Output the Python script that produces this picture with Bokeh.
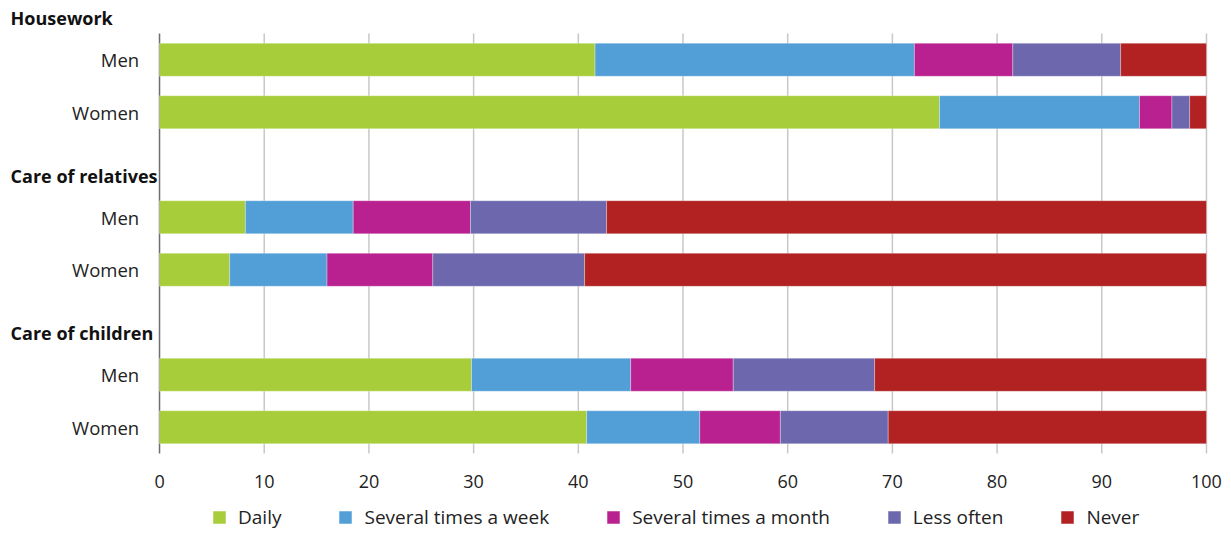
from bokeh.plotting import figure
from bokeh.models import ColumnDataSource, Range1d, Legend, LegendItem
from bokeh.core.properties import value
from bokeh.embed import file_html
from bokeh.resources import INLINE

groups = ["Housework", "Care of relatives", "Care of children"]
row_labels = ["Men", "Women", "Men", "Women", "Men", "Women"]
categories = ["Daily", "Several times a week", "Several times a month", "Less often", "Never"]
x_ticks = list(range(0, 101, 10))
x_tick_labels = [str(t) for t in x_ticks]

daily = [41.6, 74.5, 8.2, 6.7, 29.8, 40.8]
week = [30.5, 19.1, 10.3, 9.3, 15.2, 10.8]
month = [9.4, 3.1, 11.2, 10.1, 9.8, 7.7]
less_often = [10.3, 1.7, 13.0, 14.5, 13.5, 10.3]
never = [8.2, 1.6, 57.3, 59.4, 31.7, 30.4]

colors = ["#A8CD3B", "#529FD7", "#BA2190", "#6D68AE", "#B22222"]

FONT = "Open Sans"

# layout positions (rows on a 0..8 band scale, headers above each group)
ypos = [0.5, 1.5, 3.5, 4.5, 6.5, 7.5]
header_y = [-0.29, 2.72, 5.70]
label_x = -1.95
header_x = -14.23
tick_label_y = 8.533

source = ColumnDataSource(dict(y=ypos, Daily=daily, Week=week, Month=month, Less=less_often, Never=never))

p = figure(frame_width=1231, frame_height=534, output_backend="svg", toolbar_location=None,
           x_axis_type=None, y_axis_type=None,
           x_range=Range1d(-15.19, 102.39), y_range=Range1d(9.543, -0.629),
           min_border_left=0, min_border_right=0, min_border_top=0, min_border_bottom=0)

# grid lines and left axis line
grid_x = [t for t in x_ticks if t != 0]
p.segment(x0=grid_x, y0=[0] * len(grid_x), x1=grid_x, y1=[8] * len(grid_x),
          line_color="#C8C8C8", line_width=1.5)
p.segment(x0=[0], y0=[0], x1=[0], y1=[8], line_color="#6E6E6E", line_width=1.5)

renderers = p.hbar_stack(["Daily", "Week", "Month", "Less", "Never"], y="y", height=0.63,
                         color=colors, source=source, line_color="white", line_alpha=0.5,
                         line_width=0.6)

# x tick labels
p.text(x=x_ticks, y=[tick_label_y] * len(x_ticks), text=x_tick_labels, text_align="center",
       text_baseline="middle", text_font=value(FONT), text_font_size=value("18px"),
       text_color="#222222")
# row labels
p.text(x=[label_x] * len(ypos), y=ypos, text=row_labels, text_align="right",
       text_baseline="middle", text_font=value(FONT), text_font_size=value("18.5px"),
       text_color="#222222")
# group headers
p.text(x=[header_x] * len(groups), y=header_y, text=groups, text_align="left",
       text_baseline="middle", text_font=value(FONT), text_font_size=value("18px"),
       text_font_style="bold", text_color="#111111")

p.outline_line_color = None
p.background_fill_color = "white"
p.border_fill_color = "white"
p.xgrid.grid_line_color = None
p.ygrid.grid_line_color = None

legend = Legend(items=[LegendItem(label=c, renderers=[r]) for c, r in zip(categories, renderers)],
                orientation="horizontal", location=(211, 4), border_line_color=None,
                background_fill_alpha=0, spacing=56, label_standoff=11,
                glyph_width=16, glyph_height=16, padding=2, margin=0,
                label_text_font=FONT, label_text_font_size="19px", label_text_color="#222222")
p.add_layout(legend, "center")

open("out.html", "w").write(file_html(p, INLINE))
